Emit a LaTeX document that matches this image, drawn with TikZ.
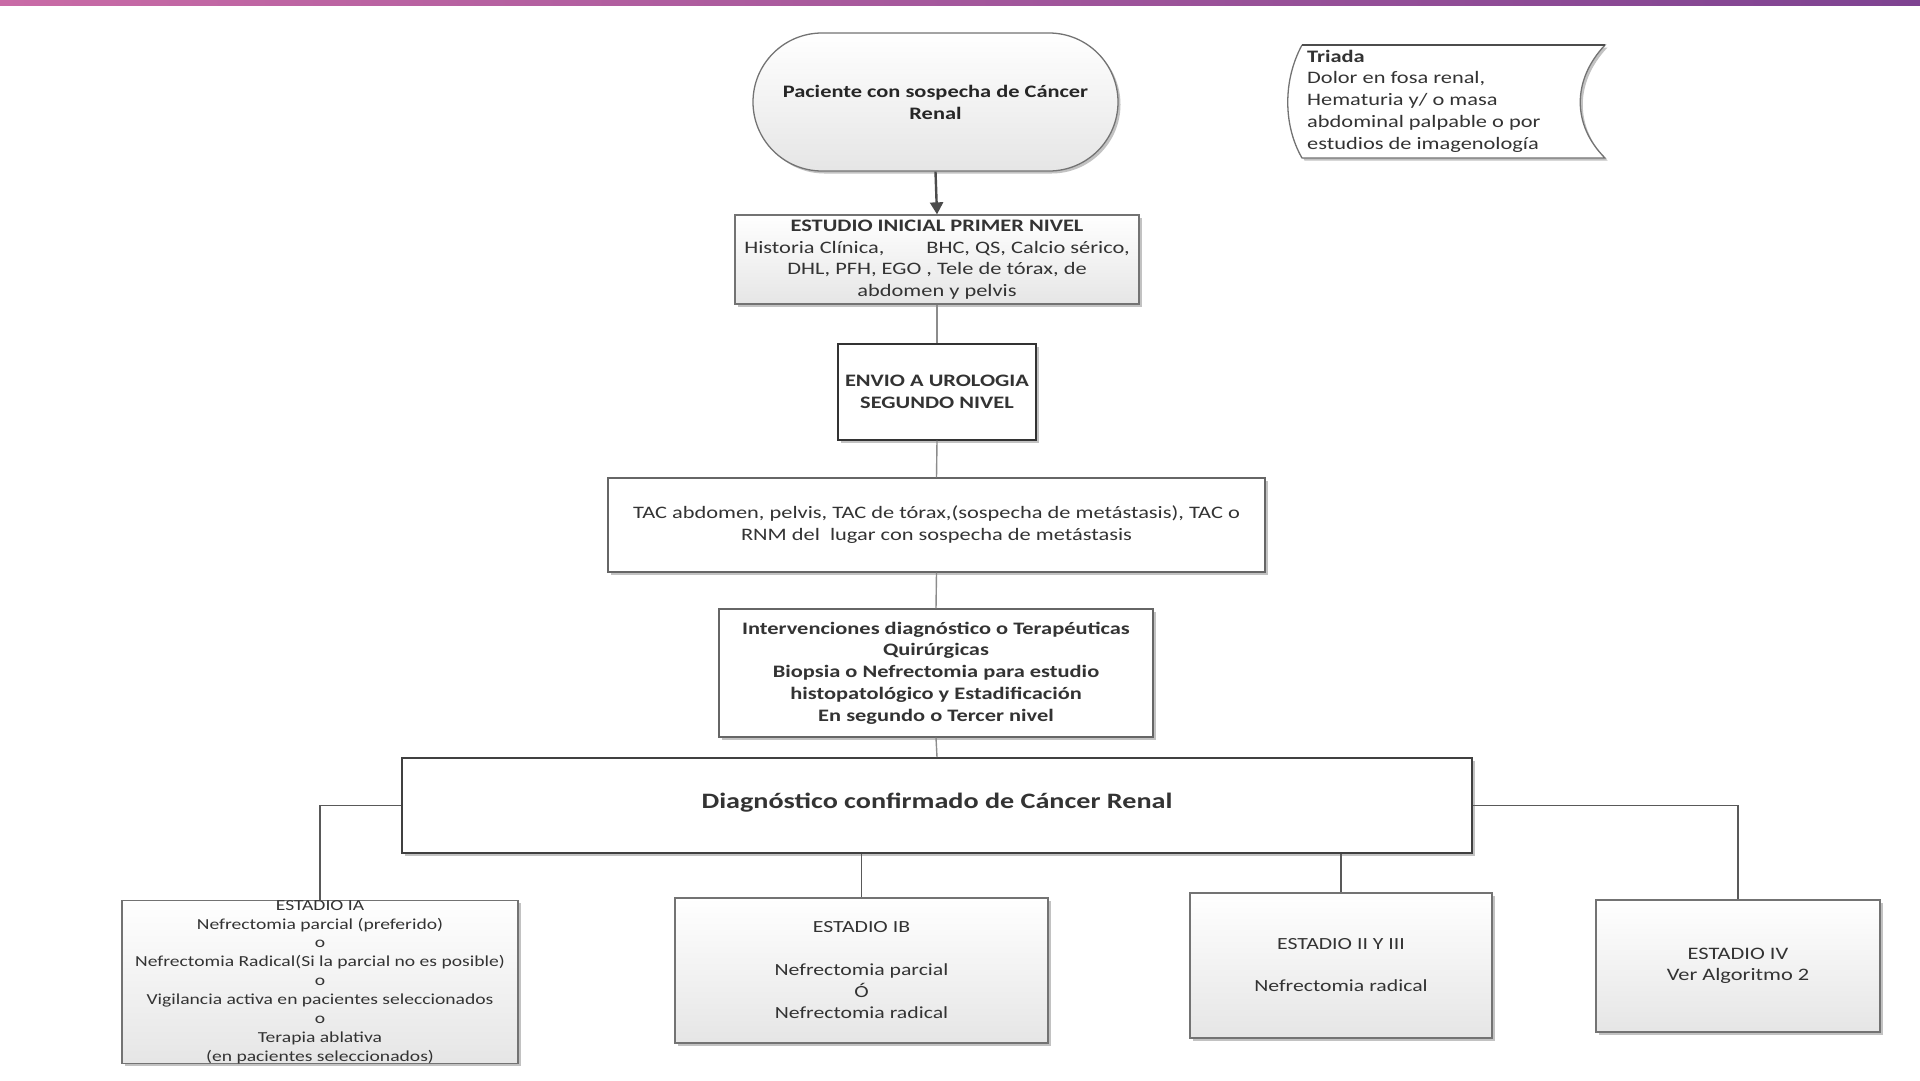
\documentclass[tikz,border=0pt]{standalone}
\usepackage{fontspec}
\setmainfont{Carlito}[FakeStretch=1.28]
\usetikzlibrary{shapes.misc,shadows,arrows.meta}
\definecolor{txt}{HTML}{333333}
\definecolor{barL}{HTML}{C96BA6}
\definecolor{barR}{HTML}{7E4391}
\newcommand\myfs[2]{\fontsize{#1}{#2}\selectfont}
\tikzset{
  shad/.style={drop shadow={shadow xshift=2.5pt,shadow yshift=-2.5pt,fill=black!40,opacity=.6}},
  gbox/.style={draw=black!55, line width=1.3pt, top color=white, bottom color=black!10, shad, inner sep=0pt, align=center, text=txt},
  wbox/.style={draw=black!60, line width=1.3pt, fill=white, shad, inner sep=0pt, align=center, text=txt},
  conn/.style={draw=black!45, line width=1.4pt},
  dconn/.style={draw=black!65, line width=1.8pt},
}
\begin{document}
\begin{tikzpicture}[x=1pt,y=-1pt]
\useasboundingbox (0,0) rectangle (1920,1080);
\fill[left color=barL,right color=barR] (0,0) rectangle (1920,5);

% start oval
\node[rounded rectangle, draw=black!55, line width=1.3pt, top color=white, bottom color=black!10, shad,
  minimum width=365pt, minimum height=138pt, inner sep=0pt, align=center, text=black!85,
  font=\myfs{17.5}{22}\bfseries] (start) at (935.5,102) {Paciente con sospecha de Cáncer\\Renal};

% triada
\draw[black!55, line width=1.3pt, fill=white, shad]
  (1302,45) -- (1605,45) .. controls (1572,80) and (1572,125) .. (1605,158) -- (1302,158)
  .. controls (1283,125) and (1283,80) .. (1302,45);
\draw[black!70, line width=2pt] (1302,45) -- (1605,45);
\node[anchor=west, align=left, inner sep=0pt, text=txt, font=\myfs{17.5}{21.7}] (triada) at (1307,101)
  {\textbf{Triada}\\Dolor en fosa renal,\\Hematuria y/ o masa\\abdominal palpable o por\\estudios de imagenología};

% box 1
\node[gbox, minimum width=404pt, minimum height=89pt, font=\myfs{17.5}{21.5}] (b1) at (937,259.5)
  {\textbf{ESTUDIO INICIAL PRIMER NIVEL}\\Historia Clínica,\hspace{2.4em}BHC, QS, Calcio sérico,\\DHL, PFH, EGO , Tele de tórax, de\\abdomen y pelvis};

% box 2
\node[wbox, draw=black!80, fill=white, minimum width=198pt, minimum height=96pt, font=\myfs{17.5}{22}\bfseries] (b2) at (937,392)
  {ENVIO A UROLOGIA\\SEGUNDO NIVEL};

% box 3
\node[wbox, minimum width=657pt, minimum height=94pt, font=\myfs{17.5}{22}] (b3) at (936.5,525)
  {TAC abdomen, pelvis, TAC de tórax,(sospecha de metástasis), TAC o\\RNM del\ \ lugar con sospecha de metástasis};

% box 4
\node[wbox, minimum width=434pt, minimum height=128pt, font=\myfs{17.5}{21.8}\bfseries] (b4) at (936,673)
  {Intervenciones diagnóstico o Terapéuticas\\Quirúrgicas\\Biopsia o Nefrectomia para estudio\\histopatológico y Estadificación\\En segundo o Tercer nivel};

% box 5
\node[wbox, draw=black!75, line width=1.8pt, minimum width=1070pt, minimum height=95pt, font=\myfs{22}{26}\bfseries] (b5) at (937,805.5)
  {\raisebox{10pt}{Diagnóstico confirmado de Cáncer Renal}};

% stage boxes
\node[gbox, minimum width=396pt, minimum height=160pt, font=\myfs{15.3}{18.9}] (ia) at (320,982)
  {ESTADIO IA\\Nefrectomia parcial (preferido)\\o\\Nefrectomia Radical(Si la parcial no es posible)\\o\\Vigilancia activa en pacientes seleccionados\\o\\Terapia ablativa\\(en pacientes seleccionados)};
\node[gbox, minimum width=373pt, minimum height=145pt, font=\myfs{17}{21.5}] (ib) at (861.5,970.5)
  {ESTADIO IB\\[21.5pt]Nefrectomia parcial\\Ó\\Nefrectomia radical};
\node[gbox, minimum width=302pt, minimum height=145pt, font=\myfs{17}{21}] (b23) at (1341,965.5)
  {ESTADIO II Y III\\[21pt]Nefrectomia radical};
\node[gbox, minimum width=284pt, minimum height=132pt, font=\myfs{17.5}{21}] (iv) at (1738,966)
  {ESTADIO IV\\Ver Algoritmo 2};

% connectors
\draw[draw=black!70, line width=2.4pt, -{Triangle[length=12pt,width=13pt]}] (start.south) -- (b1.north);
\draw[conn] (b1.south) -- (b2.north);
\draw[conn] (b2.south) -- (b3.north);
\draw[conn] (b3.south) -- (b4.north);
\draw[conn] (b4.south) -- (b5.north);
\draw[dconn] (b5.west) -| (ia.north);
\draw[dconn] (b5.east) -| (iv.north);
\draw[dconn] (b5.south -| ib.north) -- (ib.north);
\draw[dconn] (b5.south -| b23.north) -- (b23.north);
\end{tikzpicture}
\end{document}
